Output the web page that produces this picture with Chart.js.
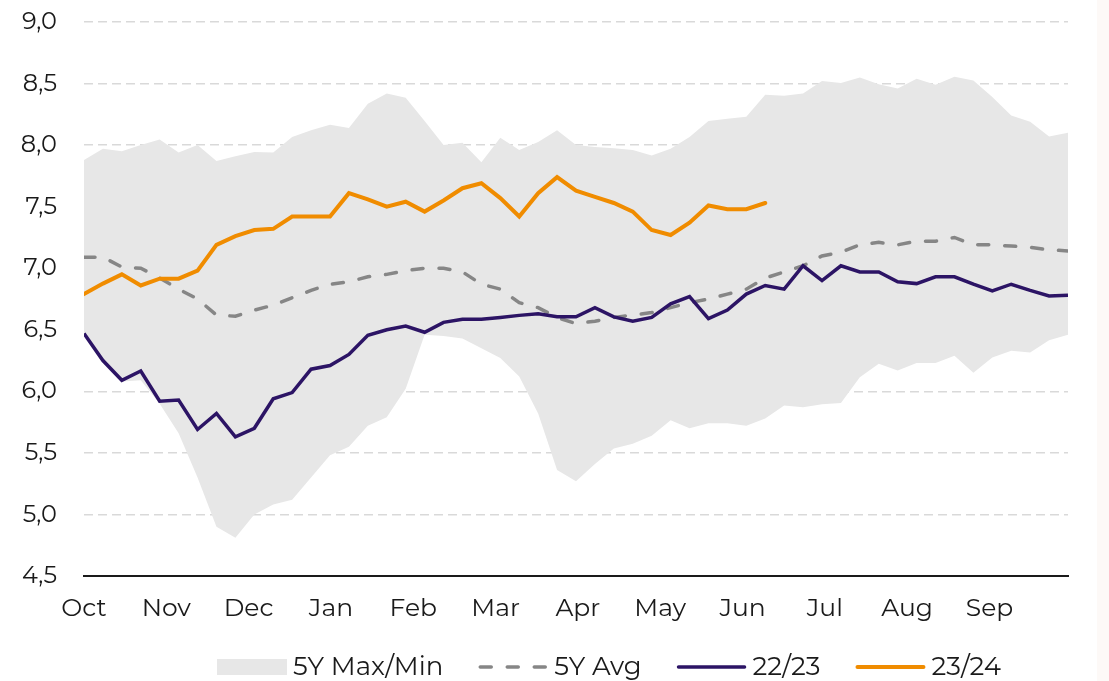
<!DOCTYPE html>
<html>
<head>
<meta charset="utf-8">
<script src="https://cdn.jsdelivr.net/npm/chart.js@4.4.1/dist/chart.umd.min.js"></script>
<style>
  body { margin: 0; background: #fdf9f7; }
  #wrap { width: 1097px; height: 681px; background: #fff; }
</style>
</head>
<body>
<div id="wrap"><canvas id="chart" width="1097" height="681"></canvas></div>
<script>
// weekly points, Oct -> Sep (53 weeks)
let months = ['Oct','Nov','Dec','Jan','Feb','Mar','Apr','May','Jun','Jul','Aug','Sep'];
let monthPos = [0, 4.35, 8.7, 13.05, 17.4, 21.75, 26.1, 30.45, 34.8, 39.15, 43.5, 47.85];

let max5y = [7.88,7.97,7.95,8.00,8.045,7.94,8.00,7.87,7.91,7.945,7.94,8.065,8.12,8.165,8.14,8.335,8.42,8.385,8.195,8.00,
  8.02,7.86,8.06,7.96,8.025,8.12,8.00,7.985,7.975,7.96,7.915,7.97,8.065,8.195,8.215,8.23,8.41,8.40,8.42,8.52,
  8.505,8.55,8.495,8.46,8.54,8.49,8.555,8.525,8.39,8.24,8.19,8.07,8.10];
let min5y = [6.47,6.25,6.08,6.09,5.90,5.66,5.30,4.90,4.81,5.00,5.08,5.12,5.30,5.48,5.55,5.72,5.79,6.02,6.46,6.45,
  6.43,6.35,6.27,6.12,5.82,5.36,5.27,5.41,5.535,5.575,5.64,5.765,5.70,5.74,5.74,5.72,5.78,5.885,5.87,5.895,
  5.905,6.115,6.225,6.17,6.23,6.23,6.29,6.15,6.275,6.33,6.315,6.415,6.46];
let avg5y = [7.09,7.09,7.01,7.00,6.92,6.83,6.75,6.62,6.61,6.66,6.70,6.76,6.82,6.87,6.89,6.93,6.95,6.98,7.00,7.00,
  6.97,6.87,6.83,6.72,6.68,6.60,6.55,6.57,6.60,6.62,6.64,6.68,6.72,6.75,6.79,6.83,6.92,6.97,7.02,7.10,
  7.13,7.19,7.21,7.19,7.22,7.22,7.25,7.19,7.19,7.18,7.17,7.15,7.14];
let y2223 = [6.47,6.25,6.09,6.165,5.92,5.93,5.69,5.82,5.63,5.70,5.94,5.99,6.18,6.21,6.30,6.455,6.50,6.53,6.48,6.56,
  6.585,6.585,6.60,6.617,6.63,6.605,6.605,6.68,6.605,6.57,6.60,6.71,6.77,6.59,6.66,6.79,6.86,6.83,7.02,6.90,
  7.02,6.97,6.97,6.89,6.875,6.93,6.93,6.87,6.815,6.87,6.82,6.775,6.78];
let y2324 = [6.79,6.875,6.95,6.86,6.915,6.915,6.98,7.19,7.26,7.31,7.32,7.42,7.42,7.42,7.61,7.56,7.50,7.54,7.46,7.55,
  7.65,7.69,7.57,7.42,7.61,7.74,7.63,7.58,7.53,7.46,7.31,7.27,7.37,7.51,7.48,7.48,7.53];

let pts = arr => arr.map((v, i) => ({x: i, y: v}));
let font = "Montserrat, 'Noto Sans', sans-serif";
let textColor = '#1a1a1a';

// legend drawn by hand: symbol 70px, small gap, text
let bottomLegend = {
  id: 'bottomLegend',
  afterDraw(chart) {
    let ctx = chart.ctx;
    let items = chart.data.datasets.filter(d => d.label !== 'min');
    ctx.save();
    ctx.font = '26px ' + font;
    let widths = items.map(d => ctx.measureText(d.label).width);
    let total = widths.reduce((a, w) => a + 70 + 6 + w, 0) + 35 * (items.length - 1);
    let x = 609 - total / 2;
    let y = 667;
    items.forEach((d, i) => {
      if (d.pointStyle === 'rect') {
        ctx.fillStyle = d.backgroundColor;
        ctx.fillRect(x, y - 8, 70, 16);
      } else {
        ctx.strokeStyle = d.borderColor;
        ctx.lineWidth = d.borderWidth;
        ctx.lineCap = 'round';
        ctx.setLineDash(d.borderDash || []);
        ctx.beginPath();
        ctx.moveTo(x + 2, y);
        ctx.lineTo(x + 68, y);
        ctx.stroke();
        ctx.setLineDash([]);
      }
      ctx.fillStyle = textColor;
      ctx.textBaseline = 'middle';
      ctx.textAlign = 'left';
      ctx.fillText(d.label, x + 76, y);
      x += 70 + 6 + widths[i] + 35;
    });
    ctx.restore();
  }
};

let chartCanv = document.getElementById('chart').getContext('2d');

let chart = new Chart(chartCanv, {
  type: 'line',
  data: {
    datasets: [
      {
        label: '5Y Max/Min',
        data: pts(max5y),
        borderWidth: 0,
        borderColor: 'rgba(0,0,0,0)',
        backgroundColor: '#e7e7e7',
        pointRadius: 0,
        pointStyle: 'rect',
        fill: '+1',
        order: 5
      },
      {
        label: 'min',
        data: pts(min5y),
        borderWidth: 0,
        borderColor: 'rgba(0,0,0,0)',
        pointRadius: 0,
        fill: false,
        order: 6
      },
      {
        label: '5Y Avg',
        data: pts(avg5y),
        borderColor: '#868686',
        backgroundColor: '#868686',
        borderWidth: 3.5,
        borderDash: [11, 16],
        borderCapStyle: 'round',
        pointRadius: 0,
        order: 3
      },
      {
        label: '22/23',
        data: pts(y2223),
        borderColor: '#2c1465',
        backgroundColor: '#2c1465',
        borderWidth: 3.5,
        pointRadius: 0,
        order: 2
      },
      {
        label: '23/24',
        data: pts(y2324),
        borderColor: '#f08c00',
        backgroundColor: '#f08c00',
        borderWidth: 4,
        borderCapStyle: 'round',
        pointRadius: 0,
        order: 1
      }
    ]
  },
  options: {
    responsive: false,
    animation: false,
    devicePixelRatio: 1,
    layout: { padding: { left: 0, right: 29, top: 22, bottom: 56 } },
    plugins: {
      filler: { drawTime: 'beforeDatasetsDraw' },
      tooltip: { enabled: false },
      legend: { display: false }
    },
    scales: {
      x: {
        type: 'linear',
        min: 0,
        max: 52,
        afterBuildTicks: scale => { scale.ticks = monthPos.map(v => ({value: v})); },
        afterFit: scale => { scale.height = 49; scale.paddingLeft = 0; scale.paddingRight = 0; },
        ticks: {
          autoSkip: false,
          maxRotation: 0,
          padding: 18,
          color: textColor,
          font: { family: font, size: 25 },
          callback: (v, i) => months[i]
        },
        grid: { display: false, drawTicks: false },
        border: { display: true, color: textColor, width: 2 }
      },
      y: {
        min: 4.5,
        max: 9,
        afterFit: scale => { scale.width = 84; scale.paddingTop = 0; scale.paddingBottom = 0; },
        ticks: {
          stepSize: 0.5,
          padding: 27,
          color: textColor,
          font: { family: font, size: 24 },
          callback: v => v.toFixed(1).replace('.', ',')
        },
        grid: { color: '#d9d9d9', lineWidth: 1.5, drawTicks: false },
        border: { display: false, dash: [9, 5] }
      }
    }
  },
  plugins: [bottomLegend]
});
</script>
</body>
</html>
